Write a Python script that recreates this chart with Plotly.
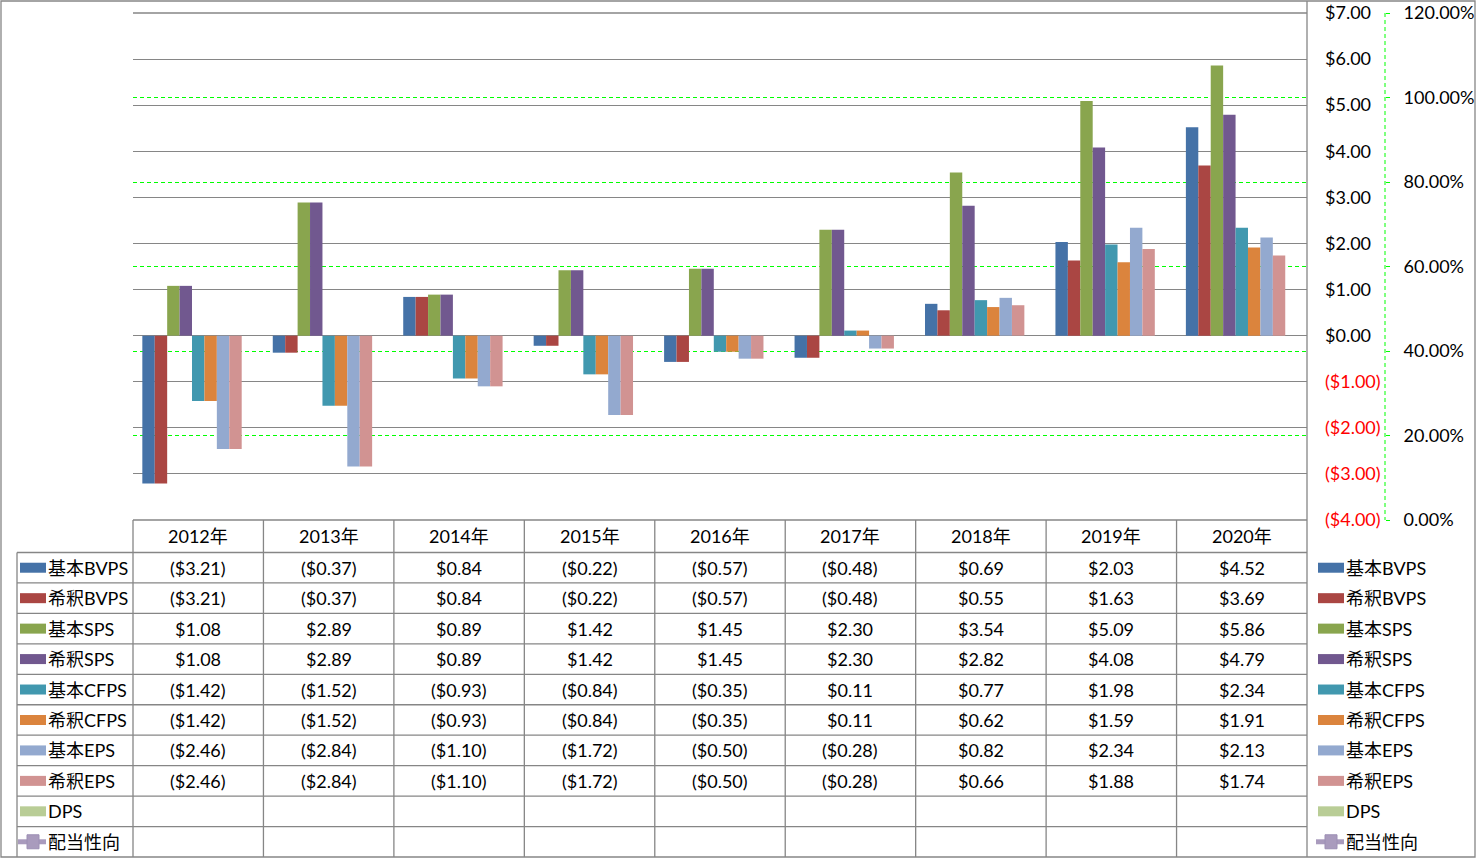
import plotly.graph_objects as go

# ---------------- data ----------------
years = ["2012年", "2013年", "2014年", "2015年", "2016年", "2017年", "2018年", "2019年", "2020年"]
series_names = ["基本BVPS", "希釈BVPS", "基本SPS", "希釈SPS", "基本CFPS", "希釈CFPS", "基本EPS", "希釈EPS", "DPS"]
basic_bvps = [-3.21, -0.37, 0.84, -0.22, -0.57, -0.48, 0.69, 2.03, 4.52]
diluted_bvps = [-3.21, -0.37, 0.84, -0.22, -0.57, -0.48, 0.55, 1.63, 3.69]
basic_sps = [1.08, 2.89, 0.89, 1.42, 1.45, 2.30, 3.54, 5.09, 5.86]
diluted_sps = [1.08, 2.89, 0.89, 1.42, 1.45, 2.30, 2.82, 4.08, 4.79]
basic_cfps = [-1.42, -1.52, -0.93, -0.84, -0.35, 0.11, 0.77, 1.98, 2.34]
diluted_cfps = [-1.42, -1.52, -0.93, -0.84, -0.35, 0.11, 0.62, 1.59, 1.91]
basic_eps = [-2.46, -2.84, -1.10, -1.72, -0.50, -0.28, 0.82, 2.34, 2.13]
diluted_eps = [-2.46, -2.84, -1.10, -1.72, -0.50, -0.28, 0.66, 1.88, 1.74]
dps = [None] * 9
line_name = "配当性向"
payout_ratio = [None] * 9
y_tick_vals = [-4, -3, -2, -1, 0, 1, 2, 3, 4, 5, 6, 7]
y2_tick_vals = [0, 0.2, 0.4, 0.6, 0.8, 1.0, 1.2]

series_values = [basic_bvps, diluted_bvps, basic_sps, diluted_sps,
                 basic_cfps, diluted_cfps, basic_eps, diluted_eps, dps]

# ---------------- styles ----------------
colors = ["#4572A7", "#AA4643", "#89A54E", "#71588F", "#4198AF",
          "#DB843D", "#93A9CF", "#D19392", "#B9CD96"]
line_color = "#A99BBD"
grid_grey = "#868686"
green = "#00FF00"
FONT = "Lato, 'Noto Sans CJK JP', sans-serif"
FS = 18

W, H = 1477, 858
def px(x):
    return x / W
def py(y):
    return 1 - y / H

PLOT_L, PLOT_R, PLOT_T, PLOT_B = 133, 1307, 13, 520
xdom = [px(PLOT_L), px(PLOT_R)]
ydom = [py(PLOT_B), py(PLOT_T)]

def money(v):
    if v is None:
        return ""
    return f"(${abs(v):.2f})" if v < 0 else f"${v:.2f}"

fig = go.Figure()
for name, vals, c in zip(series_names, series_values, colors):
    fig.add_trace(go.Bar(x=years, y=vals, name=name, marker=dict(color=c, line=dict(width=0)),
                         showlegend=False))
fig.add_trace(go.Scatter(x=years, y=payout_ratio, name=line_name, yaxis="y2",
                         mode="lines+markers", line=dict(color=line_color, width=5),
                         marker=dict(symbol="square", size=12, color=line_color),
                         showlegend=False))

y_ticktext = [f"<span style='color:#FF0000'>{money(v)}</span>" if v < 0 else money(v)
              for v in y_tick_vals]

shapes = []
annotations = []

# plot area top / bottom edge lines (gridlines at the range ends)
for yl in (PLOT_T, PLOT_B):
    shapes.append(dict(type="line", xref="paper", yref="paper", x0=px(PLOT_L), x1=px(PLOT_R),
                       y0=py(yl), y1=py(yl), line=dict(color=grid_grey, width=1.3)))

# table geometry
T0, T1, TB = 520, 552.5, 857
n_rows = len(series_names) + 1
row_h = (TB - T1) / n_rows
ncat = len(years)
col_edges = [PLOT_L + (PLOT_R - PLOT_L) * i / ncat for i in range(ncat + 1)]

# vertical table lines
for i, xe in enumerate(col_edges[:-1]):
    shapes.append(dict(type="line", xref="paper", yref="paper", x0=px(xe), x1=px(xe),
                       y0=py(T0), y1=py(TB), line=dict(color=grid_grey, width=1.3)))
# right axis line, full height
shapes.append(dict(type="line", xref="paper", yref="paper", x0=px(PLOT_R), x1=px(PLOT_R),
                   y0=py(1), y1=py(TB), line=dict(color=grid_grey, width=1.3)))
# left legend column line
shapes.append(dict(type="line", xref="paper", yref="paper", x0=px(17), x1=px(17),
                   y0=py(T1), y1=py(TB), line=dict(color=grid_grey, width=1.3)))
# horizontal table lines
for r in range(n_rows):
    yl = T1 + r * row_h
    shapes.append(dict(type="line", xref="paper", yref="paper", x0=px(17), x1=px(PLOT_R),
                       y0=py(yl), y1=py(yl), line=dict(color=grid_grey, width=1.3)))
# secondary axis dashed line
shapes.append(dict(type="line", xref="paper", yref="paper", x0=px(1385), x1=px(1385),
                   y0=py(PLOT_T), y1=py(PLOT_B), line=dict(color=green, width=1, dash="4px,3px")))
# outer border
shapes.append(dict(type="rect", xref="paper", yref="paper", x0=px(1), x1=px(1475),
                   y0=py(857), y1=py(1), line=dict(color=grid_grey, width=1.3)))

# header
for yr in years:
    annotations.append(dict(x=yr, xref="x", y=py((T0 + T1) / 2), yref="paper", text=yr,
                            showarrow=False, xanchor="center", yanchor="middle",
                            font=dict(family=FONT, size=FS, color="black")))
# values
for r, vals in enumerate(series_values):
    yc = T1 + (r + 0.5) * row_h
    for yr, v in zip(years, vals):
        if v is None:
            continue
        annotations.append(dict(x=yr, xref="x", y=py(yc), yref="paper", text=money(v),
                                showarrow=False, xanchor="center", yanchor="middle",
                                font=dict(family=FONT, size=FS, color="black")))

# legend keys (left in table, right side)
legend_items = series_names + [line_name]
for r, name in enumerate(legend_items):
    yc = T1 + (r + 0.5) * row_h
    for sx0, tx in ((20, 46), (1318, 1344)):
        if r < len(series_names):
            shapes.append(dict(type="rect", xref="paper", yref="paper",
                               x0=px(sx0), x1=px(sx0 + 26), y0=py(yc + 5), y1=py(yc - 5),
                               fillcolor=colors[r], line=dict(width=0)))
        else:
            shapes.append(dict(type="line", xref="paper", yref="paper",
                               x0=px(sx0 - 2), x1=px(sx0 + 26), y0=py(yc), y1=py(yc),
                               line=dict(color=line_color, width=5)))
            shapes.append(dict(type="rect", xref="paper", yref="paper",
                               x0=px(sx0 + 7), x1=px(sx0 + 19), y0=py(yc + 7), y1=py(yc - 7),
                               fillcolor=line_color, line=dict(color="#9C8FB4", width=1)))
        annotations.append(dict(x=px(tx), xref="paper", y=py(yc), yref="paper", text=name,
                                showarrow=False, xanchor="left", yanchor="middle",
                                font=dict(family=FONT, size=FS, color="black")))

fig.update_layout(
    width=W, height=H, margin=dict(l=0, r=0, t=0, b=0, autoexpand=False),
    paper_bgcolor="white", plot_bgcolor="white",
    barmode="group", bargap=0.143, bargroupgap=0,
    font=dict(family=FONT, size=FS, color="black"),
    showlegend=False,
    xaxis=dict(domain=xdom, type="category", range=[-0.5, ncat - 0.5], showgrid=False,
               showticklabels=False, zeroline=False, showline=False, ticks="",
               automargin=False),
    yaxis=dict(domain=ydom, side="right", range=[-4, 7], tickvals=y_tick_vals,
               ticktext=y_ticktext, showgrid=True, gridcolor=grid_grey, gridwidth=1.3,
               zeroline=False, showline=False, ticks="", ticklabelstandoff=17,
               automargin=False,
               tickfont=dict(family=FONT, size=FS, color="black")),
    yaxis2=dict(overlaying="y", side="right", anchor="free", position=px(1385),
                range=[0, 1.2], tickvals=y2_tick_vals, tickformat=".2%",
                showgrid=True, gridcolor=green, gridwidth=1.2, griddash="4px,3px",
                zeroline=False, showline=False, ticks="outside", ticklen=4, tickcolor=green,
                ticklabelstandoff=10, automargin=False,
                tickfont=dict(family=FONT, size=FS, color="black")),
    shapes=shapes, annotations=annotations,
)

fig.write_html("out.html")
